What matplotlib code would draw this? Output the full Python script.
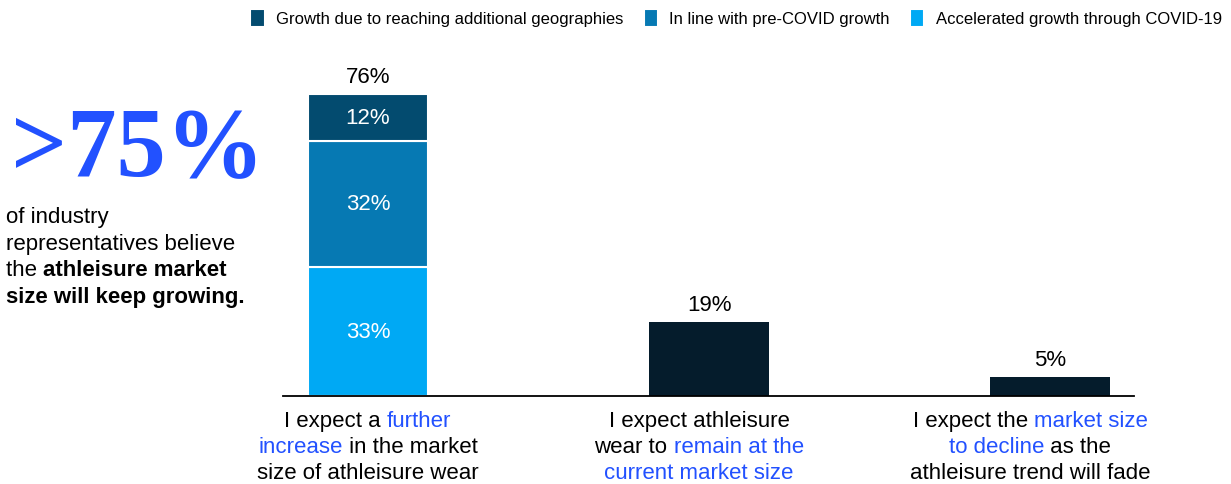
import numpy as np
import matplotlib
matplotlib.use('Agg')
import matplotlib.pyplot as plt
from matplotlib.offsetbox import TextArea, HPacker, VPacker, AnnotationBbox

plt.rcParams['font.family'] = ['Liberation Sans', 'DejaVu Sans']

BLUE = '#2251FF'
NAVY = '#051C2C'

# data
growth_series = ['Accelerated growth through COVID-19', 'In line with pre-COVID growth',
                 'Growth due to reaching additional geographies']
growth_values = [33, 32, 12]
growth_colors = ['#00A9F4', '#0679B3', '#034B6F']
other_values = [19, 5]
totals = [76, 19, 5]

# category labels: each line is a list of (text, highlighted)
category_labels = [
    [[('I expect a ', False), ('further', True)],
     [('increase', True), (' in the market', False)],
     [('size of athleisure wear', False)]],
    [[('I expect athleisure', False)],
     [('wear to ', False), ('remain at the', True)],
     [('current market size', True)]],
    [[('I expect the ', False), ('market size', True)],
     [('to decline', True), (' as the', False)],
     [('athleisure trend will fade', False)]],
]

# left note: each line is a list of (text, bold)
note_lines = [
    [('of industry', False)],
    [('representatives believe', False)],
    [('the ', False), ('athleisure market', True)],
    [('size will keep growing.', True)],
]


def rich_block(lines, fontsize, align, color_fn, weight_fn, sep):
    rows = []
    for line in lines:
        parts = [TextArea(txt, textprops=dict(fontsize=fontsize, color=color_fn(flag),
                                               fontweight=weight_fn(flag)))
                 for txt, flag in line]
        rows.append(HPacker(children=parts, pad=0, sep=0, align='baseline'))
    return VPacker(children=rows, pad=0, sep=sep, align=align)


fig = plt.figure(figsize=(12.31, 4.85), dpi=100)
ax = fig.add_axes([0.2299, 0.1808, 0.6913, 0.6948])

x = np.arange(3)
width = 0.352
bottom = 0
bars = []
for val, col, name in zip(growth_values, growth_colors, growth_series):
    b = ax.bar(x[0], val, width, bottom=bottom, color=col, edgecolor='white', linewidth=1.5, label=name)
    ax.text(x[0], bottom + val / 2, f'{val}%', ha='center', va='center', color='white', fontsize=16)
    bars.append(b)
    bottom += val
ax.bar(x[1:], other_values, width, color=NAVY)

for xi, tot, top in zip(x, totals, [sum(growth_values)] + other_values):
    ax.annotate(f'{tot}%', (xi, top), xytext=(0, 5), textcoords='offset points',
                ha='center', va='bottom', fontsize=16, color='black')

ax.set_xlim(-0.249, 2.246)
ax.set_ylim(0, 85.75)
for s in ['top', 'right', 'left']:
    ax.spines[s].set_visible(False)
ax.spines['bottom'].set_linewidth(1.3)
ax.spines['bottom'].set_color('black')
ax.set_xticks([])
ax.set_yticks([])

# labels sit slightly left of the 2nd and 3rd bar centres in the original
label_shift = [0, -10, -20]
for xi, lines, dx in zip(x, category_labels, label_shift):
    box = rich_block(lines, 16, 'center', lambda h: BLUE if h else 'black', lambda h: 'normal', 3.5)
    ab = AnnotationBbox(box, (xi, 0), xybox=(dx * 0.72, -10), xycoords='data', boxcoords='offset points',
                        box_alignment=(0.5, 1), frameon=False, pad=0)
    ax.add_artist(ab)

# legend
handles = [bars[2], bars[1], bars[0]]
leg = fig.legend(handles, [growth_series[2], growth_series[1], growth_series[0]],
                 loc='center right', bbox_to_anchor=(0.998, 0.961), ncol=3, frameon=False,
                 fontsize=12, handlelength=0.85, handleheight=1.3, handletextpad=0.7,
                 columnspacing=1.2, borderaxespad=0)

# left callout
fig.text(0.009, 1 - 176 / 485, '>75%', fontsize=71, fontweight='bold', color=BLUE,
         family='Liberation Serif', ha='left', va='baseline')
note = rich_block(note_lines, 16, 'left', lambda b: 'black', lambda b: 'bold' if b else 'normal', 4)
ab = AnnotationBbox(note, (6 / 1231, 1 - 207 / 485), xycoords='figure fraction',
                    box_alignment=(0, 1), frameon=False, pad=0)
fig.add_artist(ab)

fig.savefig('out.png', dpi=100)
